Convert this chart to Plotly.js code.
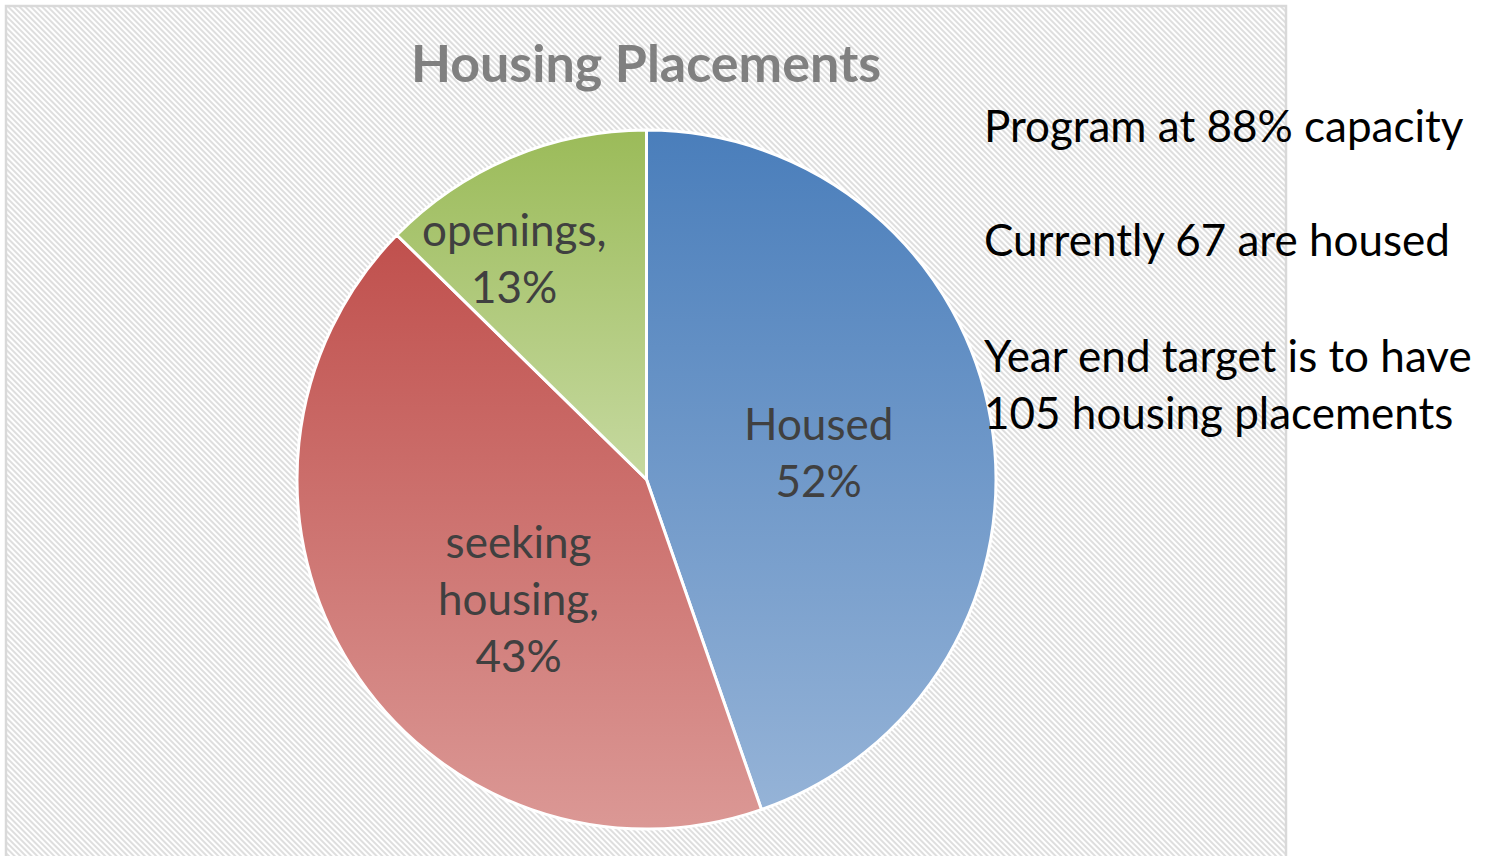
<!DOCTYPE html>
<html>
<head>
<meta charset="utf-8">
<script src="https://cdn.plot.ly/plotly-3.0.1.min.js"></script>
<style>
  html, body { margin: 0; padding: 0; background: #ffffff; }
  #chart { width: 1493px; height: 856px; }
</style>
</head>
<body>
<div id="chart"></div>
<script>
// ---- data ----
const categories = ["Housed", "seeking housing", "openings"];
const values = [67, 64, 19];
const sliceLabels = ["Housed<br>52%", "seeking<br>housing,<br>43%", "openings,<br>13%"];
const chartTitle = "Housing Placements";
const noteLines = [
  "Program at 88% capacity",
  "Currently 67 are housed",
  "Year end target is to have",
  "105 housing placements"
];

// ---- layout positions (pixels) ----
const W = 1493, H = 856;
const noteY = [125, 239, 355, 412];
const labelPos = [[818, 451], [518, 598], [514, 258]];

// ---- styles ----
const flatColors = ["#7096c9", "#cd7371", "#b2cb7d"];
const gradients = [
  ["#4a7ebb", "#95b3d7"],
  ["#c0504d", "#db9895"],
  ["#9bbb59", "#c6d9a0"]
];
const FONT = "Lato, 'Open Sans', sans-serif";

const hatchSvg =
  '<svg xmlns="http://www.w3.org/2000/svg" width="1280" height="850" viewBox="0 0 1280 850">' +
  '<defs><pattern id="h" width="4" height="4" patternUnits="userSpaceOnUse" patternTransform="rotate(-45)">' +
  '<rect x="0" y="0" width="2" height="4" fill="#dedede"/></pattern></defs>' +
  '<rect width="1280" height="850" fill="#ffffff"/><rect width="1280" height="850" fill="url(#h)"/></svg>';
const hatchUri = "data:image/svg+xml;charset=utf-8," + encodeURIComponent(hatchSvg);

const px = x => x / W;
const py = y => 1 - y / H;

const trace = {
  type: "pie",
  labels: categories,
  values: values,
  text: sliceLabels,
  textinfo: "none",
  sort: false,
  direction: "clockwise",
  rotation: 0,
  hoverinfo: "label+value",
  marker: { colors: flatColors, line: { color: "#ffffff", width: 3 } },
  domain: { x: [px(297), px(996)], y: [py(829), py(130)] },
  showlegend: false
};

const noteAnn = noteLines.map((t, i) => ({
  text: t,
  xref: "paper", yref: "paper",
  x: px(982), y: py(noteY[i]),
  xanchor: "left", yanchor: "middle",
  showarrow: false,
  font: { family: FONT, size: 44, color: "#000000" }
}));

const labelAnn = sliceLabels.map((t, i) => ({
  text: t,
  xref: "paper", yref: "paper",
  x: px(labelPos[i][0]), y: py(labelPos[i][1]),
  xanchor: "center", yanchor: "middle", align: "center",
  showarrow: false,
  font: { family: FONT, size: 44, color: "#404040" }
}));

const layout = {
  width: W, height: H,
  margin: { l: 0, r: 0, t: 0, b: 0 },
  paper_bgcolor: "#ffffff",
  plot_bgcolor: "rgba(0,0,0,0)",
  title: {
    text: "<b>" + chartTitle + "</b>",
    font: { family: FONT, size: 52, color: "#808080" },
    x: px(646), xanchor: "center", xref: "container",
    y: py(64), yanchor: "middle", yref: "container"
  },
  images: [{
    source: hatchUri,
    xref: "paper", yref: "paper",
    x: px(7), y: py(7), sizex: 1280 / W, sizey: 850 / H,
    xanchor: "left", yanchor: "top", sizing: "stretch", layer: "below"
  }],
  shapes: [{
    type: "rect", xref: "paper", yref: "paper",
    x0: px(6), x1: px(1286), y0: py(870), y1: py(6),
    line: { color: "#d9d9d9", width: 2.5 }, fillcolor: "rgba(0,0,0,0)", layer: "below"
  }],
  annotations: labelAnn.concat(noteAnn)
};

Plotly.newPlot("chart", [trace], layout, { displayModeBar: false, staticPlot: true }).then(gd => {
  // apply vertical gradient fills to the slices drawn by Plotly
  const svg = gd.querySelector(".main-svg");
  const NS = "http://www.w3.org/2000/svg";
  let defs = svg.querySelector("defs");
  if (!defs) { defs = document.createElementNS(NS, "defs"); svg.insertBefore(defs, svg.firstChild); }
  gradients.forEach((g, i) => {
    const lg = document.createElementNS(NS, "linearGradient");
    lg.setAttribute("id", "sliceGrad" + i);
    lg.setAttribute("x1", "0"); lg.setAttribute("y1", "0");
    lg.setAttribute("x2", "0"); lg.setAttribute("y2", "1");
    [[0, g[0]], [1, g[1]]].forEach(([o, c]) => {
      const s = document.createElementNS(NS, "stop");
      s.setAttribute("offset", o); s.setAttribute("stop-color", c);
      lg.appendChild(s);
    });
    defs.appendChild(lg);
  });
  gd.querySelectorAll("g.slice").forEach((sl, i) => {
    const p = sl.querySelector("path.surface");
    if (p) p.style.fill = "url(#sliceGrad" + i + ")";
  });
});
</script>
</body>
</html>
